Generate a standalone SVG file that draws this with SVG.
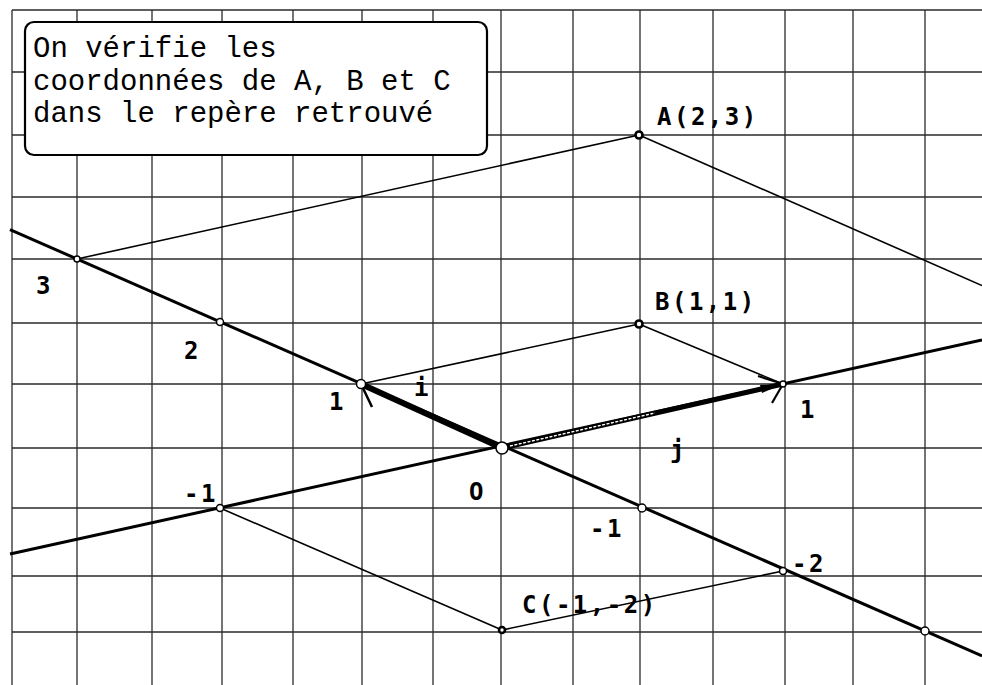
<svg xmlns="http://www.w3.org/2000/svg" width="982" height="685" viewBox="0 0 982 685">
<style>
.grid line{stroke:#2a2a2a;stroke-width:1.3}
.thin{stroke:#000;stroke-width:1.6;fill:none}
.axis{stroke:#000;stroke-width:3;fill:none}
.pt{fill:#fff;stroke:#000;stroke-width:1.5}
.ptd{fill:#fff;stroke:#000;stroke-width:2.6}
.lbl{font-family:"DejaVu Sans Mono","Liberation Mono",monospace;font-size:24px;font-weight:bold;fill:#000}
.co{letter-spacing:2.5px}
.box{font-family:"Courier New","Nimbus Mono PS","FreeMono","Courier","Liberation Mono",monospace;font-size:29px;fill:#000}
</style>
<rect width="982" height="685" fill="#fff"/>
<g id="grid" class="grid">
<line x1="12" y1="10" x2="12" y2="685"/>
<line x1="77" y1="10" x2="77" y2="685"/>
<line x1="152" y1="10" x2="152" y2="685"/>
<line x1="222" y1="10" x2="222" y2="685"/>
<line x1="293" y1="10" x2="293" y2="685"/>
<line x1="362" y1="10" x2="362" y2="685"/>
<line x1="433" y1="10" x2="433" y2="685"/>
<line x1="501" y1="10" x2="501" y2="685"/>
<line x1="573" y1="10" x2="573" y2="685"/>
<line x1="640" y1="10" x2="640" y2="685"/>
<line x1="713" y1="10" x2="713" y2="685"/>
<line x1="785" y1="10" x2="785" y2="685"/>
<line x1="853" y1="10" x2="853" y2="685"/>
<line x1="925" y1="10" x2="925" y2="685"/>
<line x1="12" y1="10" x2="982" y2="10"/>
<line x1="12" y1="72" x2="982" y2="72"/>
<line x1="12" y1="135" x2="982" y2="135"/>
<line x1="12" y1="197" x2="982" y2="197"/>
<line x1="12" y1="259" x2="982" y2="259"/>
<line x1="12" y1="323" x2="982" y2="323"/>
<line x1="12" y1="384" x2="982" y2="384"/>
<line x1="12" y1="448" x2="982" y2="448"/>
<line x1="12" y1="508" x2="982" y2="508"/>
<line x1="12" y1="576" x2="982" y2="576"/>
<line x1="12" y1="632" x2="982" y2="632"/>
</g>
<g id="note">
<rect x="25" y="22" width="462" height="133" rx="9" fill="#fff" stroke="#000" stroke-width="2.2"/>
<text class="box" x="33" y="57">On vérifie les</text>
<text class="box" x="33" y="90">coordonnées de A, B et C</text>
<text class="box" x="33" y="122">dans le repère retrouvé</text>
</g>
<g id="connectors">
<line class="axis" x1="10" y1="229.6" x2="982" y2="656"/>
<line class="axis" x1="10" y1="554" x2="982" y2="340"/>
<line class="thin" x1="77" y1="259" x2="639" y2="135"/>
<line class="thin" x1="639" y1="135" x2="982" y2="285.5"/>
<line class="thin" x1="361" y1="384" x2="639" y2="324"/>
<line class="thin" x1="639" y1="324" x2="783" y2="384"/>
<line class="thin" x1="220" y1="508" x2="502" y2="630"/>
<line class="thin" x1="502" y1="630" x2="783" y2="571"/>
<g id="vec-i">
<line x1="502" y1="448" x2="361" y2="384" stroke="#000" stroke-width="6"/>
<line x1="361" y1="384" x2="372" y2="407" stroke="#000" stroke-width="2.5"/>
</g>
<g id="vec-j">
<line x1="502" y1="448" x2="783" y2="384" stroke="#000" stroke-width="5"/>
<line x1="510" y1="446" x2="655" y2="413" stroke="#fff" stroke-width="1.4" stroke-dasharray="3 1.5"/>
<polygon points="783,384 760,385 762,393" fill="#000"/>
<line x1="783" y1="384" x2="758" y2="376" stroke="#000" stroke-width="2.2"/>
<line x1="783" y1="384" x2="772" y2="403" stroke="#000" stroke-width="2.2"/>
</g>
</g>
<g id="points">
<circle class="pt" cx="77" cy="259" r="3"/>
<circle class="pt" cx="220" cy="322" r="3.5"/>
<circle class="pt" cx="361" cy="384" r="4.5"/>
<circle class="pt" cx="502" cy="448" r="6" stroke-width="2.4"/>
<circle class="pt" cx="642" cy="508" r="4"/>
<circle class="pt" cx="783" cy="571" r="3.5"/>
<circle class="pt" cx="925" cy="631" r="4"/>
<circle class="pt" cx="220" cy="508" r="3.5"/>
<circle class="pt" cx="783" cy="384" r="3"/>
<circle class="ptd" cx="639" cy="135" r="3.5"/>
<circle class="ptd" cx="639" cy="324" r="3.5"/>
<circle class="ptd" cx="502" cy="630" r="3"/>
</g>
<g id="labels">
<text class="lbl co" x="657" y="125">A(2,3)</text>
<text class="lbl co" x="655" y="310">B(1,1)</text>
<text class="lbl co" x="522" y="613">C(-1,-2)</text>
<text class="lbl" x="469" y="500">O</text>
<text class="lbl" x="36" y="294">3</text>
<text class="lbl" x="184" y="359">2</text>
<text class="lbl" x="329" y="410">1</text>
<text class="lbl" x="414" y="396">i</text>
<text class="lbl" x="800" y="418">1</text>
<text class="lbl" x="670" y="458">j</text>
<text class="lbl co" x="184" y="502">-1</text>
<text class="lbl co" x="590" y="537">-1</text>
<text class="lbl co" x="792" y="572">-2</text>
</g>
</svg>
